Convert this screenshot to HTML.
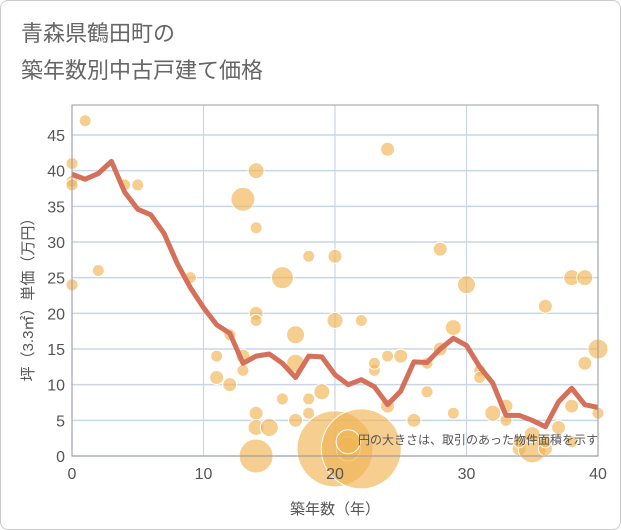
<!DOCTYPE html>
<html><head><meta charset="utf-8"><style>
body{margin:0;background:#fff;font-family:"Liberation Sans","Noto Sans CJK JP",sans-serif}
#wrap{position:relative;width:619px;height:528px;border:1px solid #ccc;border-radius:8px;overflow:hidden}
</style></head><body>
<div id="wrap">
<svg id="chart" width="621" height="530">
<text x="20" y="40" font-size="22" fill="#666">青森県鶴田町の</text>
<text x="20" y="77" font-size="22" fill="#666">築年数別中古戸建て価格</text>
<g id="grid"></g><g id="bubbles"></g><g id="line"></g><g id="axes"></g>
<text x="597" y="443" font-size="12" fill="#555" text-anchor="end">円の大きさは、取引のあった物件面積を示す</text>
<text x="334" y="513" font-size="15" fill="#555" text-anchor="middle">築年数（年）</text>
<text transform="translate(32,295) rotate(-90)" font-size="15" fill="#555" text-anchor="middle">坪（3.3㎡）単価（万円）</text>
</svg></div>
<script>
const xTicks=[0,10,20,30,40];
const yTicks=[0,5,10,15,20,25,30,35,40,45];
const lineYears=[0,1,2,3,4,5,6,7,8,9,10,11,12,13,14,15,16,17,18,19,20,21,22,23,24,25,26,27,28,29,30,31,32,33,34,35,36,37,38,39,40];
const lineValues=[39.5,38.8,39.6,41.3,37,34.6,33.8,31.2,27,23.6,20.8,18.4,17.2,13,14,14.3,13,11,14,13.9,11.4,10,10.7,9.7,7.2,9.1,13.2,13.1,15,16.5,15.5,12.5,10.2,5.7,5.7,5,4.1,7.6,9.5,7.2,6.8];
const bubbleX=[0,0,0,0,1,2,4,5,9,11,11,12,12,13,13,13,14,14,14,14,14,14,14,15,16,16,17,17,17,18,18,18,19,20,20,20,21,22,21,22,23,23,24,24,24,25,26,27,27,28,28,29,29,30,31,31,32,33,33,34,35,35,36,36,37,38,38,38,39,39,40,40,34,36];
const bubbleY=[41,38.5,38,24,47,26,38,38,25,14,11,17,10,36,14,12,40,32,20,19,6,4,0,4,25,8,17,13,5,28,8,6,9,28,19,1,1,1,2,19,12,13,43,14,7,14,5,13,9,29,15,6,18,24,12,11,6,5,7,1,1,3,21,1,4,25,7,2,13,25,15,6,2,2];
const bubbleR=[6,6,6,6,6,6,6,6,6,6,7,6,7,12,7,6,8,6,7,6,7,8,17,9,11,6,9,9,7,6,6,6,8,7,8,38,12,40,12,6,6,6,7,6,7,7,7,6,6,7,7,6,8,9,6,6,8,6,7,7,14,8,7,7,7,8,7,6,7,8,10,6,6,6];
const X=v=>71+v*(597-71)/40, Y=v=>455-v*(455-134)/45;
const NS="http://www.w3.org/2000/svg";
function mk(t,a,p){const e=document.createElementNS(NS,t);for(const k in a)e.setAttribute(k,a[k]);p.appendChild(e);return e;}
const g=document.getElementById('grid'),ax=document.getElementById('axes');
yTicks.forEach(v=>{const l=mk('line',{x1:71,x2:597,y1:Y(v),y2:Y(v),stroke:'#c9d6e6','stroke-width':1.5},g);


const t=mk('text',{x:64,y:Y(v)+6,'font-size':16,fill:'#555','text-anchor':'end'},ax);t.textContent=v;

});
xTicks.forEach(v=>{const l=mk('line',{x1:X(v),x2:X(v),y1:104,y2:455,stroke:'#c9d6e6','stroke-width':1.2},g);


const t=mk('text',{x:X(v),y:478,'font-size':16,fill:'#555','text-anchor':'middle'},ax);t.textContent=v;

});
const fr=mk('rect',{x:71,y:104,width:526,height:351,fill:'none',stroke:'#99a','stroke-width':1},ax);


const bg=document.getElementById('bubbles');
bubbleX.forEach((v,i)=>{const c=mk('circle',{cx:X(v),cy:Y(bubbleY[i]),r:bubbleR[i],fill:'#f0b455','fill-opacity':0.65,stroke:'#fff','stroke-width':1},bg);

});
const p=mk('polyline',{points:lineYears.map((v,i)=>X(v)+','+Y(lineValues[i])).join(' '),fill:'none',stroke:'#d5705a','stroke-width':5,'stroke-linejoin':'round'},document.getElementById('line'));


</script>
</body></html>
